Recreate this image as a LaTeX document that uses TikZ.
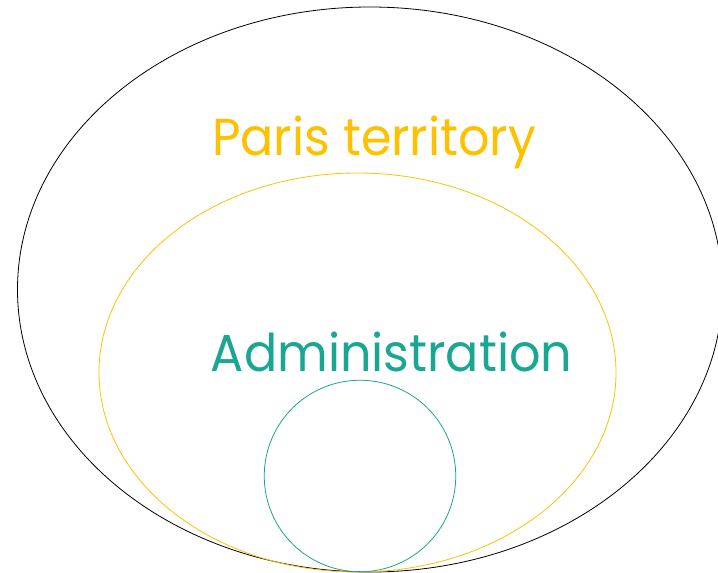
\documentclass[tikz,border=0pt]{standalone}
\usepackage{fontspec}
\setmainfont{Poppins}
\definecolor{gold}{RGB}{255,192,0}
\definecolor{teal2}{RGB}{26,166,146}
\begin{document}
\begin{tikzpicture}[x=1pt,y=-1pt,
  ring/.style={line width=0.8pt},
  label/.style={anchor=base,inner sep=0pt,font=\fontsize{52}{60}\selectfont}]
\useasboundingbox (0,0) rectangle (718,573);
\begin{scope}
\clip (0,0) rectangle (718,573);
\draw[ring,black] (370,289.5) ellipse [x radius=352.5, y radius=282.5];
\end{scope}
\draw[ring,gold] (357.5,372.5) ellipse [x radius=258.5, y radius=199.5];
\draw[ring,teal2] (360,476) circle [radius=95.75];
\node[label,text=gold] (paris) at (374,155) {\scalebox{0.947}[1]{Paris territory}};
\node[label,text=teal2] (admin) at (391.5,371) {\scalebox{0.947}[1]{Administration}};
\end{tikzpicture}
\end{document}
